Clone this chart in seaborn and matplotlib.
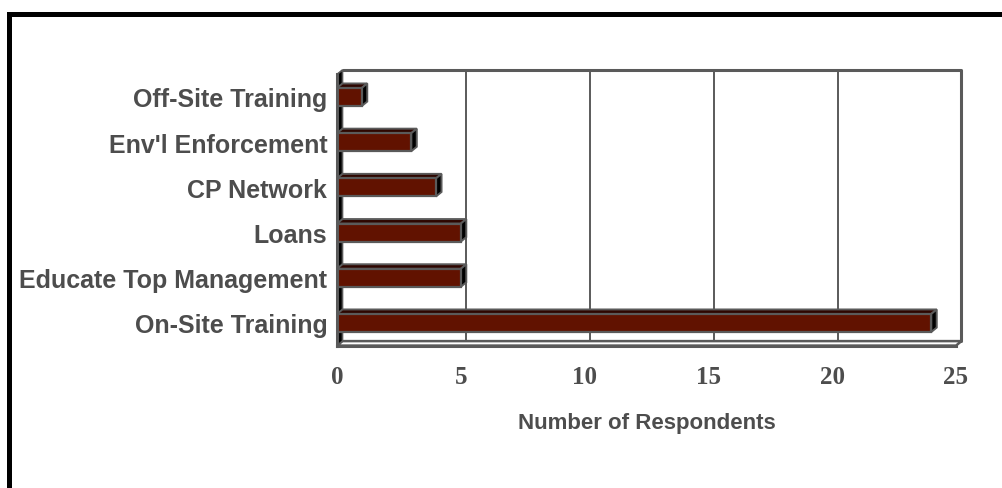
import matplotlib
matplotlib.use("Agg")
import matplotlib.pyplot as plt
from matplotlib.patches import Polygon, Rectangle
from matplotlib.lines import Line2D
import seaborn as sns
import pandas as pd

# Survey results: technical assistance options
categories = [
    "Off-Site Training",
    "Env'l Enforcement",
    "CP Network",
    "Loans",
    "Educate Top Management",
    "On-Site Training",
]
respondents = [1, 3, 4, 5, 5, 24]
x_ticks = [0, 5, 10, 15, 20, 25]

df = pd.DataFrame({"option": categories, "count": respondents})

sns.set_style("white")
plt.rcParams["font.family"] = ["Liberation Sans", "DejaVu Sans"]

TEXT = "#4d4d4d"
EDGE = "#5a5a5a"
BAR = "#611200"
BAR_TOP = "#2e0600"

W, H = 1003, 489
fig = plt.figure(figsize=(W / 100, H / 100), dpi=100)
fig.patch.set_facecolor("white")

ax_l, ax_r, ax_t, ax_b = 337, 956, 75.4, 346.6
ax = fig.add_axes([ax_l / W, 1 - ax_b / H, (ax_r - ax_l) / W, (ax_b - ax_t) / H])

sns.barplot(data=df, x="count", y="option", orient="h", color=BAR,
            saturation=1, width=0.4, edgecolor=EDGE, linewidth=1.6,
            ax=ax, zorder=4)

xmax = x_ticks[-1]
ax.set_xlim(0, xmax)
ax.set_ylim(len(categories) - 0.5, -0.5)
ylo, yhi = -0.5, len(categories) - 0.5

# depth of the 3-D box, converted from pixels to data units
DX = 5.5 * xmax / (ax_r - ax_l)
DY = -4.5 * len(categories) / (ax_b - ax_t)

common = dict(clip_on=False)

# back wall outline and gridlines
ax.add_line(Line2D([DX, xmax + DX, xmax + DX], [ylo + DY, ylo + DY, yhi + DY],
                   color=EDGE, lw=2.2, zorder=1, **common))
for v in x_ticks[1:-1]:
    ax.add_line(Line2D([v + DX, v + DX], [ylo + DY, yhi + DY],
                       color=EDGE, lw=1.4, zorder=1, **common))

# floor
ax.add_patch(Polygon([(0, yhi), (xmax, yhi), (xmax + DX, yhi + DY), (DX, yhi + DY)],
                     closed=True, fc="white", ec=EDGE, lw=1.8, zorder=2, **common))
# left wall
ax.add_patch(Polygon([(0, ylo), (DX, ylo + DY), (DX, yhi + DY), (0, yhi)],
                     closed=True, fc="black", ec=EDGE, lw=1.2, zorder=2, **common))

# 3-D faces of the bars
for p in ax.patches:
    if not isinstance(p, Rectangle) or p.get_width() <= 0:
        continue
    x0, y0 = p.get_x(), p.get_y()
    x1, y1 = x0 + p.get_width(), y0 + p.get_height()
    top = min(y0, y1)
    bot = max(y0, y1)
    ax.add_patch(Polygon([(x0, top), (x1, top), (x1 + DX, top + DY), (x0 + DX, top + DY)],
                         closed=True, fc=BAR_TOP, ec=EDGE, lw=1.4, zorder=3, **common))
    ax.add_patch(Polygon([(x1, top), (x1 + DX, top + DY), (x1 + DX, bot + DY), (x1, bot)],
                         closed=True, fc="black", ec=EDGE, lw=1.4, zorder=3, **common))

for s in ["top", "right"]:
    ax.spines[s].set_visible(False)
for s in ["left", "bottom"]:
    ax.spines[s].set_color(EDGE)
    ax.spines[s].set_linewidth(2.2)
    ax.spines[s].set_zorder(5)

ax.set_xticks(x_ticks)
ax.set_xticklabels([str(t) for t in x_ticks], family="Liberation Serif",
                   fontweight="bold", fontsize=18, color=TEXT)
ax.tick_params(axis="x", direction="out", length=4, width=1.5, color=EDGE, pad=10)

ax.set_yticks(range(len(categories)))
ax.set_yticklabels(categories, fontweight="bold", fontsize=18, color=TEXT)
ax.tick_params(axis="y", which="major", length=0, pad=7)
ax.set_yticks([i - 0.5 for i in range(len(categories) + 1)], minor=True)
ax.tick_params(axis="y", which="minor", direction="out", length=5, width=1.5, color=EDGE)

ax.set_ylabel("")
ax.set_xlabel("Number of Respondents", fontweight="bold", fontsize=16, color=TEXT)
ax.xaxis.label.set_va("center")
ax.xaxis.set_label_coords(0.5, -(424 - ax_b) / (ax_b - ax_t))
ax.grid(False)
ax.set_facecolor("none")

# outer frame (open on the right and bottom)
fig.add_artist(Rectangle((9.5 / W, -0.2), 1.5, 1.2 - 14.5 / H,
                         transform=fig.transFigure, fill=False, ec="black", lw=3.6))

fig.savefig("out.png", dpi=100, facecolor="white")
